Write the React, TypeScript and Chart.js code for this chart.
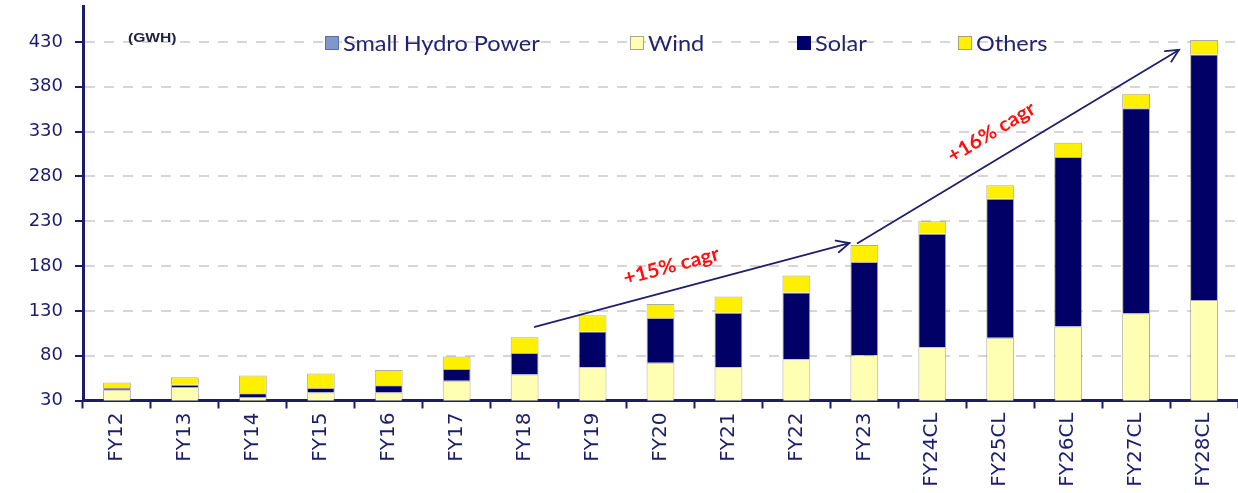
import React, { useEffect, useRef } from 'react';
import { Chart, registerables } from 'chart.js';
Chart.register(...registerables);

const categories = ['FY12', 'FY13', 'FY14', 'FY15', 'FY16', 'FY17', 'FY18', 'FY19', 'FY20', 'FY21', 'FY22', 'FY23', 'FY24CL', 'FY25CL', 'FY26CL', 'FY27CL', 'FY28CL'];
const smallHydro = [0, 0, 0, 0, 0, 0, 0, 0, 0, 0, 0, 0, 0, 0, 0, 0, 0];
const wind = [42, 45, 34, 39, 39, 52, 59, 67, 72, 67, 76, 80.5, 89.5, 100, 112.5, 127, 142];
const solar = [2, 2.5, 4, 5, 8, 13, 24, 40, 50, 61, 74.5, 104, 126.5, 155, 189, 229, 274];
const others = [6, 8.5, 20, 16, 17, 14, 17.5, 18, 15.5, 18, 19, 19, 14, 15, 16, 16, 16];
const yTicks = [30, 80, 130, 180, 230, 280, 330, 380, 430];
const seriesNames = ['Small Hydro Power', 'Wind', 'Solar', 'Others'];
const unitLabel = '(GWH)';
const cagrLabels = ['+15% cagr', '+16% cagr'];

const NAVY = '#1c1c6c';
const COLORS = {
  hydro: '#8097cc',
  wind: '#ffffb4',
  solar: '#000066',
  others: '#fff000',
};
const BAR_BORDER = 'rgba(120,120,100,0.6)';

function drawStretched(ctx: CanvasRenderingContext2D, text: string, x: number, y: number, sx: number) {
  ctx.save();
  ctx.translate(x, y);
  ctx.scale(sx, 1);
  ctx.fillText(text, 0, 0);
  ctx.restore();
}

const overlayPlugin = {
  id: 'overlay',
  afterDraw(chart: any) {
    const { ctx, chartArea, scales } = chart;
    const xs = scales.x;
    const ys = scales.y;

    // unit label
    ctx.save();
    ctx.fillStyle = '#222244';
    ctx.font = 'bold 13px "Liberation Sans", Arial, sans-serif';
    ctx.textBaseline = 'middle';
    ctx.textAlign = 'left';
    drawStretched(ctx, unitLabel, chartArea.left + 45, 38, 1.2);
    ctx.restore();

    // legend
    const legendOffsets = [242, 547, 714, 875];
    const boxFill = [COLORS.hydro, COLORS.wind, COLORS.solar, COLORS.others];
    const boxStroke = ['#5b6fa6', '#a8a890', '#000066', '#a8a070'];
    ctx.save();
    ctx.font = '21px Lato, "Noto Sans", sans-serif';
    ctx.textBaseline = 'middle';
    ctx.textAlign = 'left';
    seriesNames.forEach((name, i) => {
      const bx = chartArea.left + legendOffsets[i];
      const by = 36;
      ctx.fillStyle = boxFill[i];
      ctx.fillRect(bx, by, 14, 14);
      ctx.strokeStyle = boxStroke[i];
      ctx.lineWidth = 1;
      ctx.strokeRect(bx + 0.5, by + 0.5, 13, 13);
      ctx.fillStyle = '#23236e';
      drawStretched(ctx, name, bx + 18, by + 8, 1.12);
    });
    ctx.restore();

    // arrows
    const arrows = [
      { from: [6.15, 112], to: [10.78, 205.5] },
      { from: [10.9, 205.5], to: [15.63, 421] },
    ];
    ctx.save();
    ctx.strokeStyle = '#1f1f6b';
    ctx.lineWidth = 1.8;
    ctx.lineCap = 'round';
    arrows.forEach((a) => {
      const x1 = xs.getPixelForValue(a.from[0]);
      const y1 = ys.getPixelForValue(a.from[1]);
      const x2 = xs.getPixelForValue(a.to[0]);
      const y2 = ys.getPixelForValue(a.to[1]);
      ctx.beginPath();
      ctx.moveTo(x1, y1);
      ctx.lineTo(x2, y2);
      ctx.stroke();
      const ang = Math.atan2(y2 - y1, x2 - x1);
      const L = 14;
      const spread = 0.45;
      ctx.beginPath();
      ctx.moveTo(x2 - L * Math.cos(ang - spread), y2 - L * Math.sin(ang - spread));
      ctx.lineTo(x2, y2);
      ctx.lineTo(x2 - L * Math.cos(ang + spread), y2 - L * Math.sin(ang + spread));
      ctx.stroke();
    });
    ctx.restore();

    // cagr labels
    const labelPos = [[8.16, 180], [12.87, 329]];
    ctx.save();
    ctx.fillStyle = '#ff1010';
    ctx.font = 'bold 20px Lato, "Noto Sans", sans-serif';
    ctx.textAlign = 'center';
    ctx.textBaseline = 'middle';
    cagrLabels.forEach((t, i) => {
      const a = arrows[i];
      const x1 = xs.getPixelForValue(a.from[0]);
      const y1 = ys.getPixelForValue(a.from[1]);
      const x2 = xs.getPixelForValue(a.to[0]);
      const y2 = ys.getPixelForValue(a.to[1]);
      const ang = Math.atan2(y2 - y1, x2 - x1);
      const px = xs.getPixelForValue(labelPos[i][0]);
      const py = ys.getPixelForValue(labelPos[i][1]);
      ctx.save();
      ctx.translate(px, py);
      ctx.rotate(ang);
      ctx.scale(1.05, 1);
      ctx.fillText(t, 0, 0);
      ctx.restore();
    });
    ctx.restore();
  },
};

export default function App() {
  const canvasRef = useRef<HTMLCanvasElement | null>(null);

  useEffect(() => {
    document.body.style.margin = '0';
    const canvas = canvasRef.current;
    if (!canvas) return;
    const mk = (label: string, data: number[], color: string) => ({
      label,
      data,
      backgroundColor: color,
      borderColor: BAR_BORDER,
      borderWidth: 1,
      categoryPercentage: 1,
      barPercentage: 0.41,
    });
    const chart = new Chart(canvas, {
      type: 'bar',
      data: {
        labels: categories,
        datasets: [
          mk(seriesNames[0], smallHydro, COLORS.hydro),
          mk(seriesNames[1], wind, COLORS.wind),
          mk(seriesNames[2], solar, COLORS.solar),
          mk(seriesNames[3], others, COLORS.others),
        ],
      },
      options: {
        responsive: false,
        animation: false,
        layout: { padding: { top: 6, right: 0, left: 0, bottom: 0 } },
        plugins: {
          legend: { display: false },
          tooltip: { enabled: false },
        },
        scales: {
          x: {
            stacked: true,
            offset: true,
            afterFit: (s: any) => {
              s.height = 92.5;
              s.paddingLeft = 0;
              s.paddingRight = 0;
              s.paddingTop = 0;
              s.paddingBottom = 0;
            },
            border: { display: true, color: NAVY, width: 3 },
            grid: {
              display: true,
              drawOnChartArea: false,
              drawTicks: true,
              tickLength: 8,
              tickColor: NAVY,
              tickWidth: 2,
              offset: true,
            },
            ticks: {
              autoSkip: false,
              minRotation: 90,
              maxRotation: 90,
              padding: 4,
              color: NAVY,
              font: { family: '"DejaVu Sans", sans-serif', size: 20 },
            },
          },
          y: {
            stacked: true,
            min: 30,
            max: 470,
            afterFit: (s: any) => {
              s.width = 83;
              s.paddingTop = 0;
              s.paddingBottom = 0;
              s.paddingLeft = 0;
              s.paddingRight = 0;
            },
            afterBuildTicks: (s: any) => { s.ticks = yTicks.map((v) => ({ value: v })); },
            border: { display: true, color: NAVY, width: 3, dash: [10, 9] },
            grid: {
              color: '#d6d6d6',
              lineWidth: 2,
              drawTicks: true,
              tickLength: 8,
              tickColor: NAVY,
              tickWidth: 2,
              tickBorderDash: [],
            },
            ticks: {
              padding: 12,
              color: NAVY,
              font: { family: '"DejaVu Sans", sans-serif', size: 18 },
            },
          },
        },
      },
      plugins: [overlayPlugin],
    });
    return () => chart.destroy();
  }, []);

  return (
    <div style={{ width: 1238, height: 493 }}>
      <canvas ref={canvasRef} width={1238} height={493} />
    </div>
  );
}
